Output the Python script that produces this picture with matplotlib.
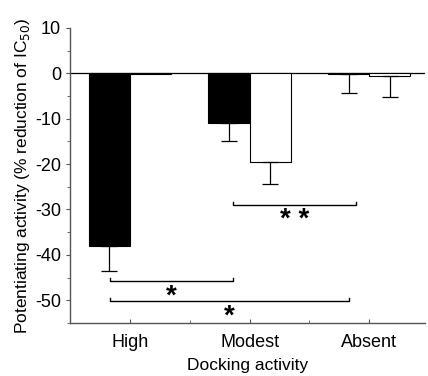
import numpy as np
import matplotlib
matplotlib.use("Agg")
import matplotlib.pyplot as plt

plt.rcParams['font.family'] = ['Liberation Sans', 'DejaVu Sans']
plt.rcParams['axes.unicode_minus'] = False

# ---------- data ----------
categories = ["High", "Modest", "Absent"]
black_vals = [-38.0, -11.0, -0.2]
black_err = [5.5, 4.0, 4.2]
white_vals = [-0.1, -19.6, -0.5]
white_err = [0.0, 4.8, 4.7]

# significance brackets: (x_start, x_end, y, label)
brackets = [
    (0.86, 1.89, -29.0, "**"),
    (-0.17, 0.86, -45.8, "*"),
    (-0.17, 1.83, -50.2, "*"),
]

# ---------- plot ----------
fig = plt.figure(figsize=(4.28, 3.76), dpi=100)
ax = fig.add_axes([0.164, 0.141, 0.83, 0.785])

x = np.arange(len(categories))
w = 0.345
off = 0.172

ax.bar(x - off, black_vals, w, color="black", edgecolor="black", linewidth=0.8)
ax.bar(x + off, white_vals, w, color="white", edgecolor="black", linewidth=0.8)

ax.errorbar(x - off, black_vals, yerr=[black_err, np.zeros(3)], fmt="none",
            ecolor="black", elinewidth=0.9, capsize=5.5, capthick=0.9)
mask = np.array(white_err) > 0
ax.errorbar((x + off)[mask], np.array(white_vals)[mask],
            yerr=[np.array(white_err)[mask], np.zeros(mask.sum())], fmt="none",
            ecolor="black", elinewidth=0.9, capsize=5.5, capthick=0.9)

ax.axhline(0, color="black", linewidth=0.9, zorder=0)

for x0, x1, yb, lab in brackets:
    ax.plot([x0, x0, x1, x1], [yb + 0.6, yb, yb, yb + 0.6], color="black", lw=1.0)
    ax.text((x0 + x1) / 2, yb - 3.4, " ".join(lab), ha="center", va="center",
            fontsize=20, fontweight="bold")

ax.set_xlim(-0.5, 2.47)
ax.set_ylim(-55, 10)
ax.set_yticks(np.arange(-50, 11, 10))
ax.set_yticks(np.arange(-55, 11, 5), minor=True)
ax.set_xticks(x)
ax.set_xticks([0.5, 1.5], minor=True)
ax.set_xticklabels(categories)

for s in ["top", "right"]:
    ax.spines[s].set_visible(False)
for s in ["left", "bottom"]:
    ax.spines[s].set_color("#555555")
    ax.spines[s].set_linewidth(1.0)

ax.tick_params(axis="both", which="both", colors="#555555", labelcolor="black",
               labelsize=13)
ax.tick_params(axis="y", which="major", length=3, direction="out")
ax.tick_params(axis="y", which="minor", length=2, direction="out")
ax.tick_params(axis="x", which="major", length=3, direction="in", pad=8)
ax.tick_params(axis="x", which="minor", length=2, direction="in")

ax.set_ylabel("Potentiating activity (% reduction of IC$_{50}$)", fontsize=12.5, labelpad=2)
ax.set_xlabel("Docking activity", fontsize=12.5, labelpad=5)

fig.savefig("out.png", dpi=100)
